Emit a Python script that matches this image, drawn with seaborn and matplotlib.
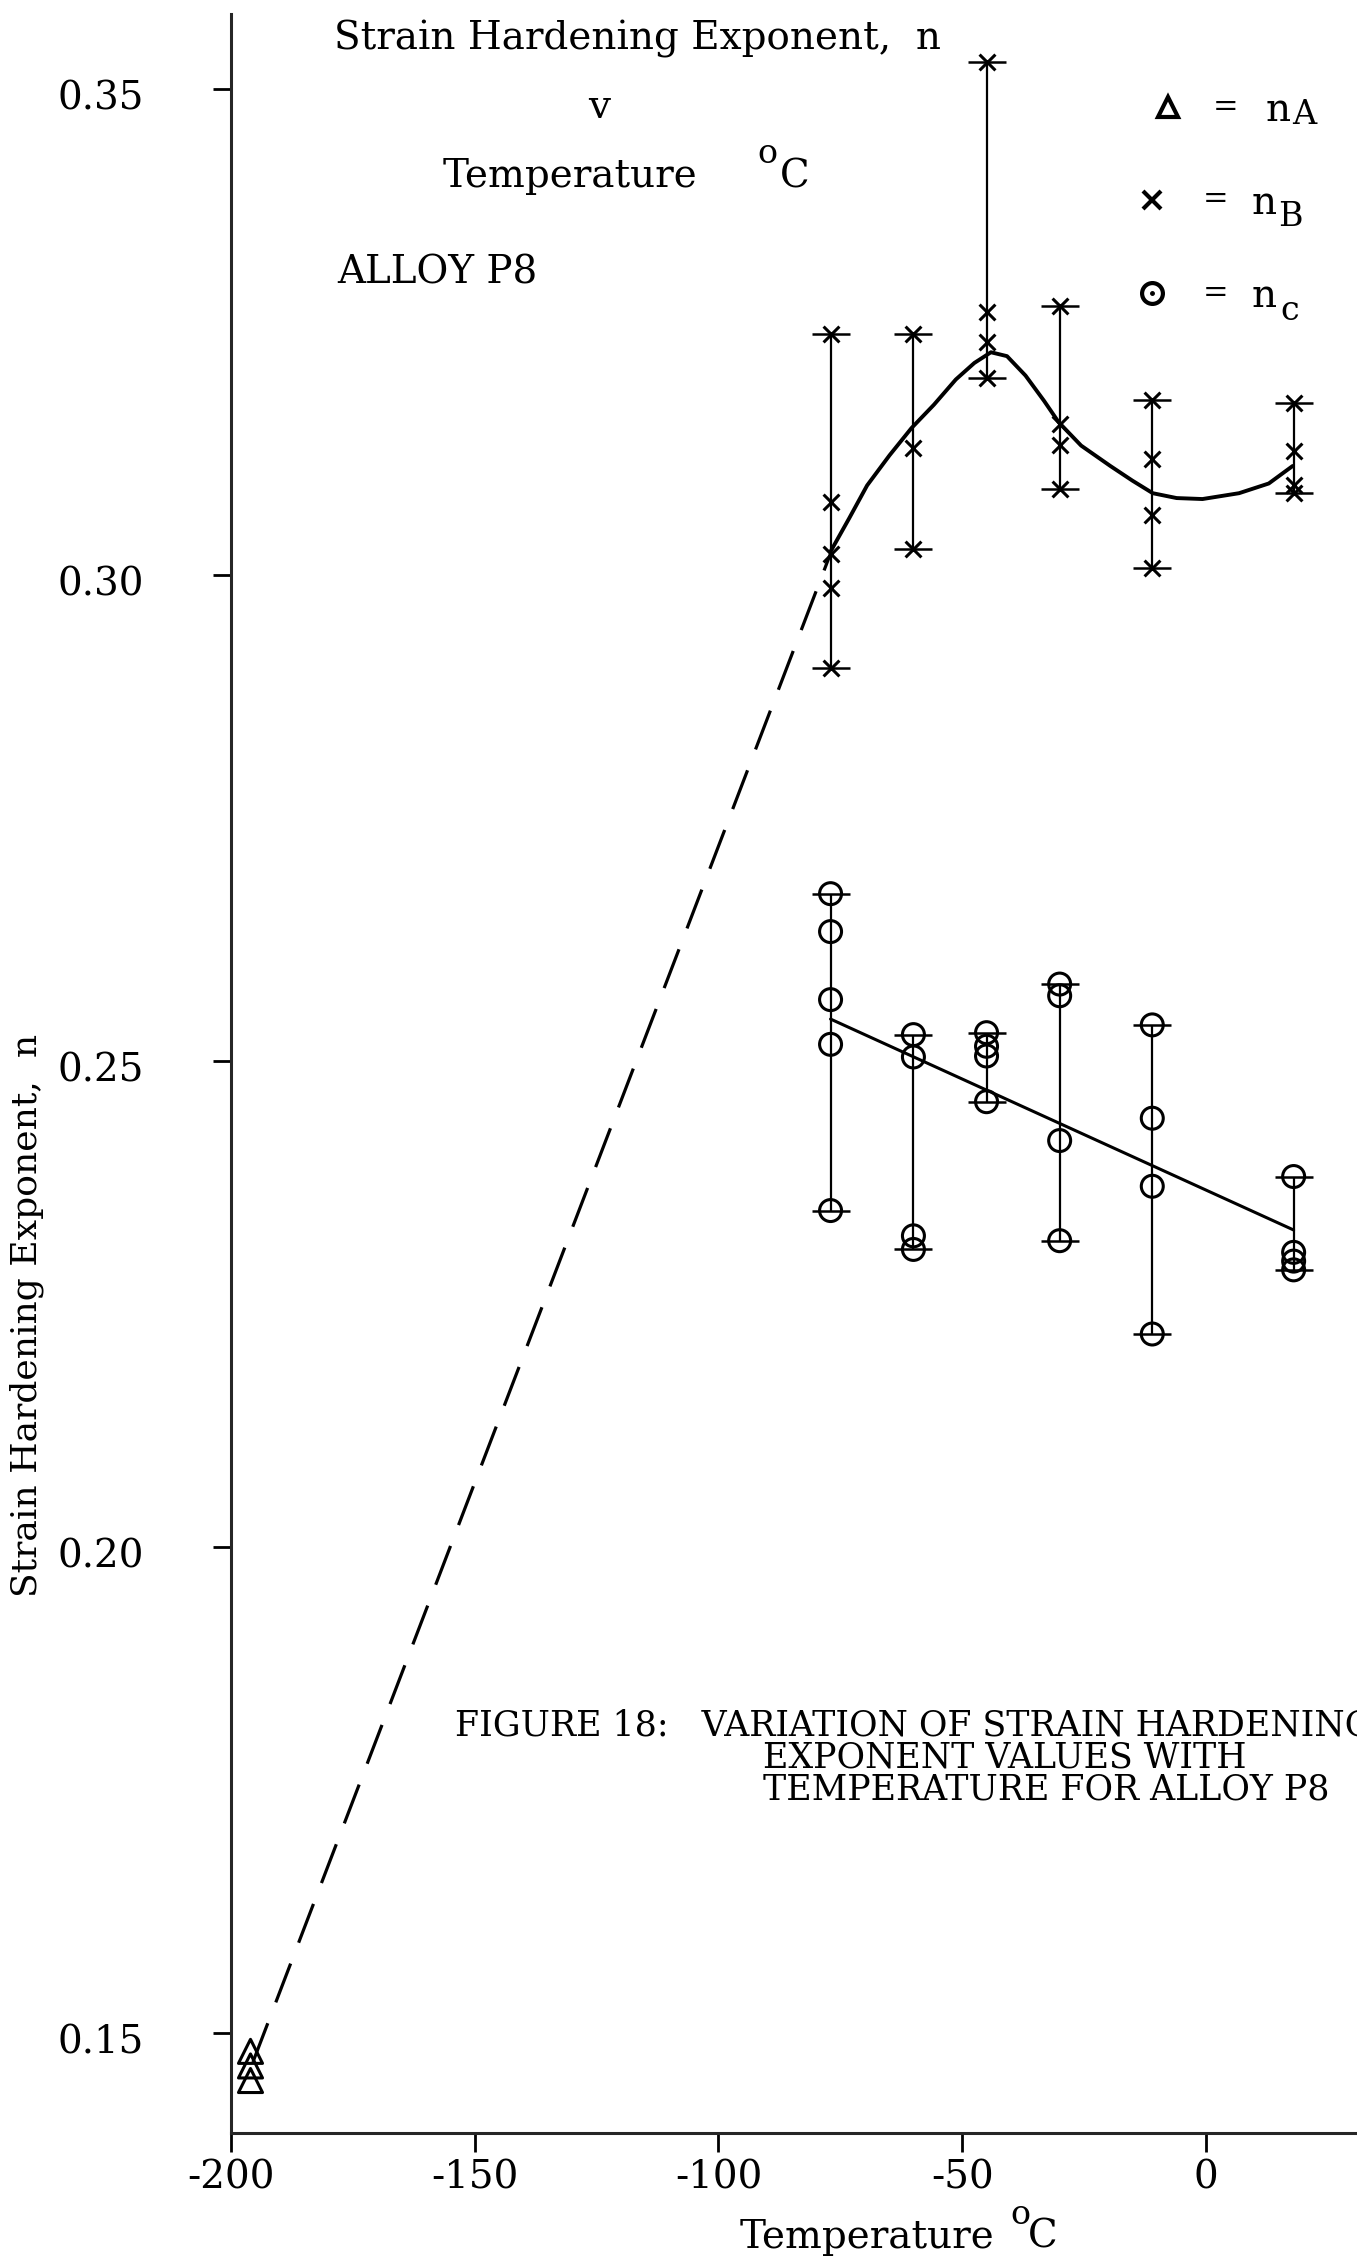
import numpy as np
import pandas as pd
import matplotlib
matplotlib.use("Agg")
import matplotlib.pyplot as plt
import seaborn as sns
from matplotlib.lines import Line2D
from matplotlib.transforms import ScaledTranslation

# ---------------- data ----------------
# n_A : liquid nitrogen temperature
temp_A = [-196, -196, -196]
n_A = [0.1481, 0.1466, 0.1451]

# n_B : individual test values per temperature
temps = [-77, -60, -45, -30, -11, 18]
nB_m77 = [0.3248, 0.3075, 0.3021, 0.2986, 0.2904]
nB_m60 = [0.3248, 0.3131, 0.3027]
nB_m45 = [0.3528, 0.3270, 0.3240, 0.3203]
nB_m30 = [0.3277, 0.3155, 0.3134, 0.3088]
nB_m11 = [0.3180, 0.3119, 0.3062, 0.3007]
nB_p18 = [0.3177, 0.3127, 0.3092, 0.3084]

# n_C : individual test values per temperature
nC_m77 = [0.2672, 0.2633, 0.2563, 0.2517, 0.2346]
nC_m60 = [0.2527, 0.2504, 0.2320, 0.2306]
nC_m45 = [0.2529, 0.2515, 0.2505, 0.2458]
nC_m30 = [0.2579, 0.2567, 0.2418, 0.2315]
nC_m11 = [0.2537, 0.2441, 0.2371, 0.2219]
nC_p18 = [0.2381, 0.2303, 0.2294, 0.2285]

# hand-drawn trend curve through n_B
curveB_T = [-77, -73.2, -69.5, -64.9, -60.4, -55.8, -51.3, -47.5, -44.1, -40.8,
            -37.0, -33.2, -30.2, -25.6, -19.6, -15.1, -10.9, -6.0, -0.7, 6.8,
            12.9, 17.8]
curveB_n = [0.3024, 0.3058, 0.3092, 0.3123, 0.3151, 0.3175, 0.3201, 0.3218,
            0.3229, 0.3225, 0.3205, 0.3179, 0.3157, 0.3133, 0.3112, 0.3097,
            0.3084, 0.3079, 0.3078, 0.3084, 0.3094, 0.3112]

# dashed extrapolation down to n_A
dash_T = [-195.5, -77]
dash_n = [0.1470, 0.3022]

# straight line through n_C
lineC_T = [-77, 18]
lineC_n = [0.2543, 0.2326]

xticks = [-200, -150, -100, -50, 0]
xtick_labels = ["-200", "-150", "-100", "-50", "0"]
yticks = [0.15, 0.20, 0.25, 0.30, 0.35]
ytick_labels = ["0.15", "0.20", "0.25", "0.30", "0.35"]

nB_sets = [nB_m77, nB_m60, nB_m45, nB_m30, nB_m11, nB_p18]
nC_sets = [nC_m77, nC_m60, nC_m45, nC_m30, nC_m11, nC_p18]

dfB = pd.DataFrame([(t, v) for t, s in zip(temps, nB_sets) for v in s], columns=["T", "n"])
dfC = pd.DataFrame([(t, v) for t, s in zip(temps, nC_sets) for v in s], columns=["T", "n"])
dfA = pd.DataFrame({"T": temp_A, "n": n_A})

# ---------------- figure ----------------
sns.set_theme(style="ticks")
plt.rcParams["font.family"] = ["DejaVu Serif"]
plt.rcParams["axes.linewidth"] = 2.2

W, H = 1357, 2262
fig = plt.figure(figsize=(W / 100, H / 100), dpi=100, facecolor="white")

x0_px, x1_px = 231, 1357
y_top_px, y_bot_px = 14, 2133
ax = fig.add_axes([x0_px / W, 1 - y_bot_px / H, (x1_px - x0_px) / W, (y_bot_px - y_top_px) / H])
ax.set_facecolor("white")

ax.set_xlim(-200, 31)
ax.set_ylim(0.1397, 0.3577)

# error bars (range of each set)
for t, s in zip(temps, nB_sets):
    lo, hi = min(s), max(s)
    ax.errorbar([t], [(lo + hi) / 2], yerr=[(hi - lo) / 2], fmt="none", ecolor="black",
                elinewidth=1.6, capsize=14, capthick=1.8, zorder=2)
for t, s in zip(temps, nC_sets):
    lo, hi = min(s), max(s)
    ax.errorbar([t], [(lo + hi) / 2], yerr=[(hi - lo) / 2], fmt="none", ecolor="black",
                elinewidth=1.6, capsize=14, capthick=1.8, zorder=2)

# trend lines
sns.lineplot(x=curveB_T, y=curveB_n, color="black", linewidth=2.8, estimator=None,
             sort=False, ax=ax, zorder=3)
sns.lineplot(x=dash_T, y=dash_n, color="black", linewidth=2.3, estimator=None,
             linestyle=(0, (13, 7)), ax=ax, zorder=3)
sns.lineplot(x=lineC_T, y=lineC_n, color="black", linewidth=2.2, estimator=None,
             ax=ax, zorder=3)

# points
sns.scatterplot(data=dfB, x="T", y="n", marker="x", s=130, color="black",
                linewidth=2.2, ax=ax, zorder=4)
sns.scatterplot(data=dfC, x="T", y="n", marker="o", s=250, facecolor="none",
                edgecolor="black", linewidth=2.2, ax=ax, zorder=4)
sns.scatterplot(data=dfA, x="T", y="n", marker="^", s=300, facecolor="none",
                edgecolor="black", linewidth=2.2, ax=ax, zorder=4)

# axes styling
sns.despine(ax=ax)
ax.set_xlabel("")
ax.set_ylabel("")
ax.set_xticks(xticks)
ax.set_xticklabels(xtick_labels)
ax.set_yticks(yticks)
ax.set_yticklabels(ytick_labels)
ax.tick_params(axis="y", direction="out", length=13, width=2.0, pad=50,
               labelsize=28, colors="black")
ax.tick_params(axis="x", direction="out", length=14, width=2.0, pad=5,
               labelsize=28, colors="black")
for lab in ax.get_yticklabels():
    lab.set_transform(lab.get_transform() + ScaledTranslation(0, -0.06, fig.dpi_scale_trans))
ax.grid(False)


def ftext(px, py, s, **kw):
    kw.setdefault("color", "black")
    return fig.text(px / W, 1 - py / H, s, **kw)


# title block
ftext(638, 50, "Strain Hardening Exponent,  n", fontsize=28, ha="center", va="baseline")
ftext(599, 118, "v", fontsize=28, ha="center", va="baseline")
ftext(443, 187, "Temperature", fontsize=28, ha="left", va="baseline")
ftext(757, 163, "o", fontsize=24, ha="left", va="baseline")
ftext(780, 188, "C", fontsize=28, ha="left", va="baseline")
ftext(337, 283, "ALLOY P8", fontsize=28, ha="left", va="baseline")

# legend block: (row y, marker, marker x, "=" x, subscript, n centre x, subscript x, subscript baseline)
leg_rows = [(107, "^", 1168, 1226, "A", 1278, 1292, 124),
            (200, "x", 1152, 1216, "B", 1264, 1278, 226),
            (293, "o", 1152, 1216, "c", 1264, 1280, 320)]
for py, mk, mx, ex, sub, nx, sx, sy in leg_rows:
    fig.add_artist(Line2D([mx / W], [1 - py / H], transform=fig.transFigure, marker=mk,
                          markersize=15 if mk != "x" else 13, markerfacecolor="none",
                          markeredgecolor="black", markeredgewidth=3.0, linestyle="none"))
    if mk == "o":
        fig.add_artist(Line2D([mx / W], [1 - py / H], transform=fig.transFigure, marker="o",
                              markersize=2.5, color="black", linestyle="none"))
    ftext(ex, py, "=", fontsize=22, ha="center", va="center")
    ftext(nx, py + 14, "n", fontsize=28, ha="center", va="baseline")
    ftext(sx, sy, sub, fontsize=24, ha="left", va="baseline")

# caption (one multi-line text, indented continuation lines; baseline = last line)
indent = " " * 28
caption = ("FIGURE 18:   VARIATION OF STRAIN HARDENING\n"
           + indent + "EXPONENT VALUES WITH\n"
           + indent + "TEMPERATURE FOR ALLOY P8")
ftext(455, 1800, caption, fontsize=25, ha="left", va="baseline", linespacing=0.93)

# axis labels
ftext(27, 1315, "Strain Hardening Exponent,  n", fontsize=26, rotation=90,
      ha="center", va="center")
ftext(740, 2248, "Temperature", fontsize=28, ha="left", va="baseline")
ftext(1010, 2224, "o", fontsize=24, ha="left", va="baseline")
ftext(1028, 2248, "C", fontsize=28, ha="left", va="baseline")

fig.savefig("out.png", dpi=100, facecolor="white")
